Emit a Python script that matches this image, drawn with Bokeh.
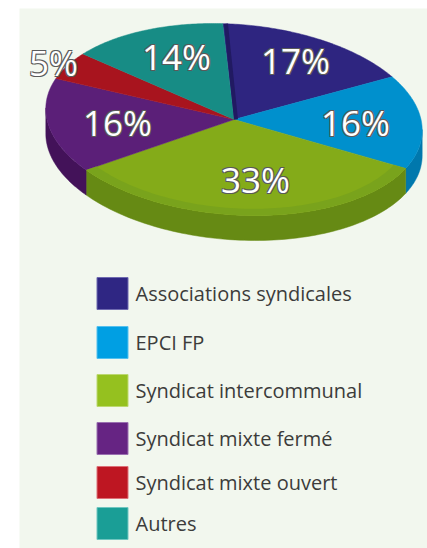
import numpy as np
from bokeh.plotting import figure
from bokeh.models import Range1d
from bokeh.core.properties import value
from bokeh.embed import file_html
from bokeh.resources import INLINE

categories = ["Associations syndicales", "EPCI FP", "Syndicat intercommunal",
              "Syndicat mixte fermé", "Syndicat mixte ouvert", "Autres"]
percent_values = [17, 16, 33, 16, 5, 14]
top_colors = ["#2e2580", "#0090cd", "#84ab19", "#5b1f78", "#a8141e", "#178c85"]
wall_colors = ["#231b63", "#0078ad", "#668a14", "#431259", "#7d0f17", "#106a64"]
legend_colors = ["#2f2683", "#009fe3", "#95c11f", "#662483", "#be1622", "#1a9e96"]
legend_edges = ["#6f6ab0", "#55c0ee", "#bcd870", "#9a70b0", "#dd7078", "#70c6c0"]
legend_y = [293, 342, 390, 438, 482, 523]
label_x = [295, 355, 255, 117, 53, 176]
label_y = [60, 122, 179, 122, 62, 56]

CX, CY, RX, RY, DEPTH, SHEAR = 233.5, 119, 187, 96, 25, 0.22
START = 87.0

W, H = 427, 548
p = figure(width=W, height=H, output_backend="svg", toolbar_location=None,
           x_range=Range1d(0, 427), y_range=Range1d(548, 0),
           min_border=0, outline_line_color=None, background_fill_color="white",
           border_fill_color="white")
p.axis.visible = False
p.grid.visible = False

p.quad(left=19, right=427, top=8, bottom=548, color="#f2f7ee", line_color=None)


def arc(t0, t1, scale=1.0, dy=0.0):
    t = np.radians(np.linspace(t0, t1, 80))
    yy = -RY * scale * np.sin(t)
    return CX + RX * scale * np.cos(t) + SHEAR * yy, CY + dy + yy


# slice boundaries (degrees, running clockwise from the top)
bounds = START - np.cumsum([0] + percent_values) * 360.0 / sum(percent_values)

# side walls: only the front of the tilted disc shows
for i in range(len(categories)):
    hi, lo = bounds[i], bounds[i + 1]
    a0, a1 = max(lo, -187), min(hi, -6)
    if a1 <= a0:
        continue
    x0, y0 = arc(a0, a1)
    x1, y1 = arc(a1, a0, dy=DEPTH)
    p.patch(np.r_[x0, x1], np.r_[y0, y1], color=wall_colors[i], line_color=wall_colors[i], line_width=0.5)

# top faces
for i in range(len(categories)):
    hi, lo = bounds[i], bounds[i + 1]
    x, y = arc(lo, hi)
    p.patch(np.r_[CX, x], np.r_[CY, y], color=top_colors[i], line_color=top_colors[i], line_width=0.5)

# lip of the green slice
hi, lo = bounds[2], bounds[3]
xa, ya = arc(lo, hi)
xb, yb = arc(hi, lo, scale=0.93)
p.patch(np.r_[xa, xb], np.r_[ya, yb], color="#79a31c", line_color=None)

# dark inner edge between "Autres" and "Associations syndicales"
xe, ye = arc(bounds[0] - 1.0, bounds[0] - 1.0)
p.segment(x0=[CX + 2], y0=[CY], x1=xe[:1], y1=ye[:1], line_color="#211a62", line_width=4)

# percentage labels: outline made of offset copies beneath a white face
percent_labels = [f"{v}%" for v in percent_values]
font = value("Open Sans")
for dx, dy in [(-1, -1), (1, -1), (-1, 1), (1, 1)]:
    p.text(x=[v + dx for v in label_x], y=[v + dy for v in label_y], text=percent_labels,
           text_font=font, text_font_size="35px", text_color="#5a5a5a",
           text_align="center", text_baseline="middle")
p.text(x=label_x, y=label_y, text=percent_labels, text_font=font, text_font_size="35px",
       text_color="white", text_align="center", text_baseline="middle")

# legend
p.rect(x=[112] * 6, y=legend_y, width=31, height=32, fill_color=legend_colors,
       line_color=legend_edges, line_width=1)
p.text(x=[135] * 6, y=legend_y, text=categories, text_font=font, text_font_size="20px",
       text_color="#3c3c3b", text_align="left", text_baseline="middle")

html = file_html(p, INLINE)
open("out.html", "w").write(html)
